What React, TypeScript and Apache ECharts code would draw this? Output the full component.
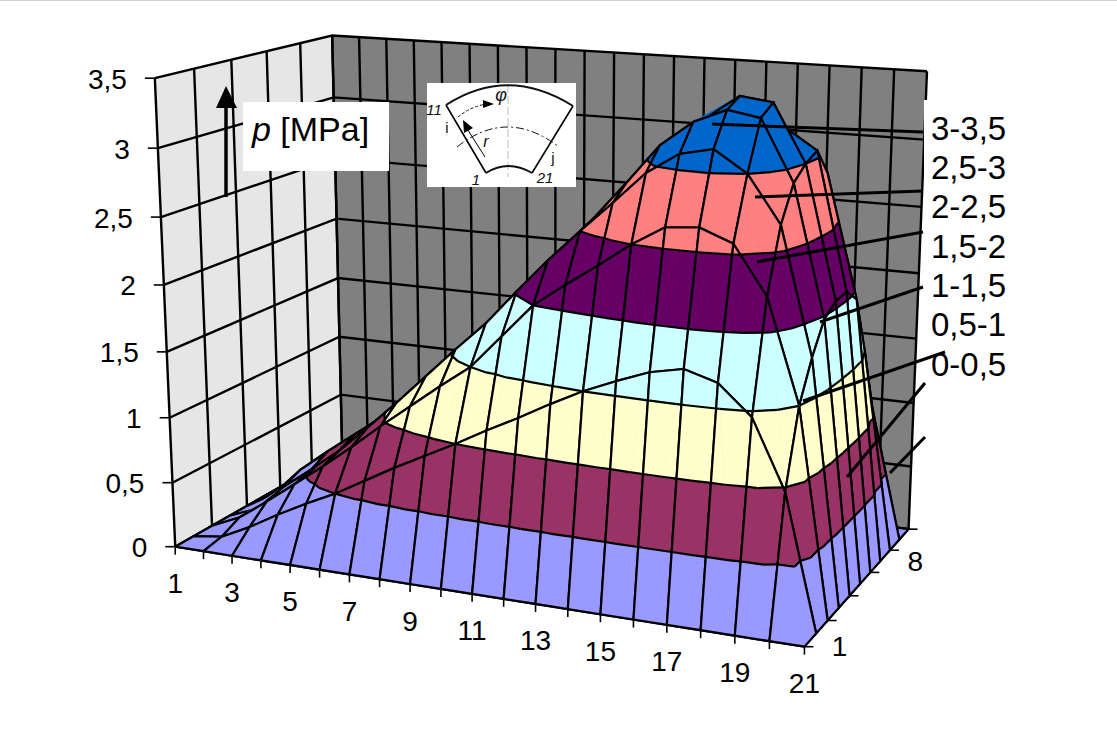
import React, { useEffect, useRef } from "react";
import * as echarts from "echarts";

const W = 1117;
const H = 732;
const FONT = "'Liberation Sans', Arial, sans-serif";

const bandLabels = ["0-0,5", "0,5-1", "1-1,5", "1,5-2", "2-2,5", "2,5-3", "3-3,5"];
const bandColors = ["#9999FF", "#993366", "#FFFFCC", "#CCFFFF", "#660066", "#FF8080", "#0066CC"];
const pTickLabels = ["0", "0,5", "1", "1,5", "2", "2,5", "3", "3,5"];
const pTickValues = [0, 0.5, 1, 1.5, 2, 2.5, 3, 3.5];
const xLabels = ["1", "3", "5", "7", "9", "11", "13", "15", "17", "19", "21"];
const depthLabels = [["1", 1], ["8", 8]] as [string, number][];
const depthGrid = [1, 3, 5, 7, 9, 11];

const row1 = [0,0,0,0,0,0,0,0,0,0,0,0,0,0,0,0,0,0,0,0,0];
const row2 = [0,.03,.14,.27,.39,.5,.63,.76,.88,1,1.13,1.25,1.38,1.5,1.6,1.69,1.74,1.67,1.46,.97,0];
const row3 = [0,.1,.26,.43,.6,.78,.97,1.15,1.33,1.5,1.75,2,2.17,2.33,2.5,2.64,2.66,2.57,2.23,1.5,0];
const row4 = [0,.09,.3,.47,.65,.86,1.08,1.31,1.54,1.76,2.02,2.27,2.5,2.72,2.95,3.1,3.15,3,2.67,1.77,0];
const row5 = [0,.13,.36,.54,.71,.88,1.1,1.34,1.56,1.8,2.04,2.28,2.55,2.82,3.1,3.28,3.38,3.34,2.91,1.98,0];
const row6 = [0,.13,.35,.52,.69,.86,1.07,1.3,1.52,1.76,2,2.24,2.5,2.78,3.05,3.27,3.44,3.41,3,2.05,0];
const row7 = [0,.12,.28,.44,.62,.8,1,1.2,1.4,1.62,1.85,2.07,2.3,2.55,2.82,3.05,3.3,3.2,3.05,2.06,0];
const row8 = [0,.1,.24,.38,.53,.68,.85,1.02,1.2,1.38,1.58,1.78,1.98,2.2,2.45,2.7,2.85,2.9,2.85,1.95,0];
const row9 = [0,.08,.18,.3,.42,.54,.68,.82,.96,1.1,1.25,1.4,1.56,1.75,1.95,2.15,2.3,2.35,2.42,1.5,0];
const row10 = [0,.05,.1,.17,.24,.3,.38,.46,.54,.62,.7,.8,.9,1,1.12,1.25,1.35,1.45,1.7,1,0];
const row11 = [0,0,0,0,0,0,0,0,0,0,0,0,0,0,0,0,0,0,0,0,0];
const pressure = [row1, row2, row3, row4, row5, row6, row7, row8, row9, row10, row11];

// screen anchors of the box: [x index 0..1, depth 0..1, height 0..1, px, py]
const boxAnchors = [
  [0, 0, 0, 176, 546], [0, 0, 1, 155, 78], [1, 0, 0, 803, 648],
  [0, 1, 0, 342, 453], [0, 1, 1, 332, 35], [1, 1, 0, 908, 528],
  [1, 1, 1, 927, 72], [0.5, 0, 0, 471, 594], [1, 0.4, 0, 852, 595],
];

function solve(A: number[][], b: number[]) {
  const n = b.length;
  const M = A.map((r, i) => [...r, b[i]]);
  for (let c = 0; c < n; c++) {
    let p = c;
    for (let r = c + 1; r < n; r++) if (Math.abs(M[r][c]) > Math.abs(M[p][c])) p = r;
    [M[c], M[p]] = [M[p], M[c]];
    for (let r = 0; r < n; r++) {
      if (r === c) continue;
      const f = M[r][c] / M[c][c];
      for (let k = c; k <= n; k++) M[r][k] -= f * M[c][k];
    }
  }
  return M.map((r, i) => r[n] / r[i]);
}

function fitCamera() {
  const rows: number[][] = [];
  const rhs: number[] = [];
  boxAnchors.forEach(([X, Y, Z, u, v]) => {
    rows.push([X, Y, Z, 1, 0, 0, 0, 0, -u * X, -u * Y, -u * Z]);
    rhs.push(u);
    rows.push([0, 0, 0, 0, X, Y, Z, 1, -v * X, -v * Y, -v * Z]);
    rhs.push(v);
  });
  const n = 11;
  const AtA = Array.from({ length: n }, () => new Array(n).fill(0));
  const Atb = new Array(n).fill(0);
  rows.forEach((r, k) => {
    for (let i = 0; i < n; i++) {
      Atb[i] += r[i] * rhs[k];
      for (let j = 0; j < n; j++) AtA[i][j] += r[i] * r[j];
    }
  });
  return solve(AtA, Atb);
}
const cam = fitCamera();

// i: 1..21, d: 1..11, p: 0..3.5 -> picture position (data units of the hidden axes)
function project(i: number, d: number, p: number): [number, number] {
  const X = (i - 1) / 20, Y = (d - 1) / 10, Z = p / 3.5;
  const w = cam[8] * X + cam[9] * Y + cam[10] * Z + 1;
  return [
    (cam[0] * X + cam[1] * Y + cam[2] * Z + cam[3]) / w,
    (cam[4] * X + cam[5] * Y + cam[6] * Z + cam[7]) / w,
  ];
}

type V = [number, number, number];
function clipAbove(poly: V[], level: number, keepAbove: boolean): V[] {
  const out: V[] = [];
  const inside = (v: V) => (keepAbove ? v[2] >= level : v[2] <= level);
  for (let k = 0; k < poly.length; k++) {
    const a = poly[k], b = poly[(k + 1) % poly.length];
    const ia = inside(a), ib = inside(b);
    if (ia) out.push(a);
    if (ia !== ib) {
      const t = (level - a[2]) / (b[2] - a[2]);
      out.push([a[0] + t * (b[0] - a[0]), a[1] + t * (b[1] - a[1]), level]);
    }
  }
  return out;
}

function cellTriangles(i: number, d: number): V[][] {
  const p = (ii: number, dd: number): V => [ii, dd, pressure[dd - 1][ii - 1]];
  const a = p(i, d), b = p(i + 1, d), c = p(i + 1, d + 1), e = p(i, d + 1);
  return i >= 17 ? [[a, b, e], [b, c, e]] : [[a, b, c], [a, c, e]];
}

const cellData: number[][] = [];
for (let d = 10; d >= 1; d--) for (let i = 1; i <= 20; i++) cellData.push([i, d]);

const wallData = [[0, 0]];
const xTickIdx = row1.map((_, k) => k + 1);

export default function App() {
  const ref = useRef<HTMLDivElement>(null);
  useEffect(() => {
    document.body.style.margin = "0";
    document.body.style.background = "#fff";
    const chart = echarts.init(ref.current!, null, { renderer: "svg" });

    const line = (api: any, pts: [number, number][], width = 2, color = "#000") => ({
      type: "polyline",
      shape: { points: pts.map((q) => api.coord(q)) },
      style: { stroke: color, lineWidth: width, fill: null },
      silent: true,
    });

    const renderWalls = (_: any, api: any) => {
      const kids: any[] = [];
      const poly = (pts: [number, number][], fill: string) => ({
        type: "polygon",
        shape: { points: pts.map((q) => api.coord(q)) },
        style: { fill },
      });
      kids.push(poly([project(1, 1, 0), project(1, 1, 3.5), project(1, 11, 3.5), project(1, 11, 0)], "#E6E6E6"));
      kids.push(poly([project(1, 11, 0), project(1, 11, 3.5), project(21, 11, 3.5), project(21, 11, 0)], "#808080"));
      kids.push(poly([project(1, 1, 0), project(21, 1, 0), project(21, 11, 0), project(1, 11, 0)], "#C0C0C0"));
      pTickValues.forEach((p) => {
        kids.push(line(api, [project(1, 1, p), project(1, 11, p), project(21, 11, p)], 2.4));
        const a = project(1, 1, p);
        kids.push(line(api, [a, [a[0] - 10, a[1]]], 1.6));
      });
      depthGrid.forEach((d) => {
        kids.push(line(api, [project(1, d, 0), project(1, d, 3.5)], 2.4));
        kids.push(line(api, [project(1, d, 0), project(21, d, 0)], 2.4));
        const a = project(21, d, 0);
        kids.push(line(api, [a, [a[0] + 9, a[1]]], 1.6));
      });
      xTickIdx.forEach((i) => {
        kids.push(line(api, [project(i, 11, 0), project(i, 11, 3.5)], 2.4));
        kids.push(line(api, [project(i, 1, 0), project(i, 11, 0)], 2));
        const a = project(i, 1, 0);
        kids.push(line(api, [a, [a[0], a[1] + 8]], 1.6));
      });
      return { type: "group", children: kids };
    };

    const renderCell = (_: any, api: any) => {
      const i = api.value(0), d = api.value(1);
      const kids: any[] = [];
      const tris = cellTriangles(i, d);
      tris.forEach((tri) => {
        bandColors.forEach((color, b) => {
          let poly: V[] = clipAbove(tri, b * 0.5, true);
          if (poly.length) poly = clipAbove(poly, (b + 1) * 0.5, false);
          if (poly.length >= 3) {
            kids.push({
              type: "polygon",
              shape: { points: poly.map((v) => api.coord(project(v[0], v[1], v[2]))) },
              style: { fill: color, stroke: color, lineWidth: 0.8 },
            });
          }
        });
      });
      tris.forEach((tri) => {
        for (let l = 0.5; l <= 3; l += 0.5) {
          const cut: [number, number][] = [];
          for (let k = 0; k < 3; k++) {
            const a = tri[k], b = tri[(k + 1) % 3];
            if ((a[2] < l && b[2] >= l) || (a[2] >= l && b[2] < l)) {
              const t = (l - a[2]) / (b[2] - a[2]);
              cut.push(project(a[0] + t * (b[0] - a[0]), a[1] + t * (b[1] - a[1]), l));
            }
          }
          if (cut.length === 2) kids.push(line(api, cut, 2.2));
        }
      });
      const pr = (ii: number, dd: number) => project(ii, dd, pressure[dd - 1][ii - 1]);
      kids.push(line(api, [pr(i, d), pr(i + 1, d), pr(i + 1, d + 1), pr(i, d + 1), pr(i, d)], 2.2));
      return { type: "group", children: kids };
    };

    const text = (x: number, y: number, s: string, size: number, align = "center", italic = false, color = "#000") => ({
      type: "text",
      x,
      y,
      z: 100,
      style: {
        text: s,
        fill: color,
        fontFamily: FONT,
        fontSize: size,
        fontStyle: italic ? "italic" : "normal",
        align,
        verticalAlign: "middle",
      },
    });

    const renderLabels = (_: any, api: any) => {
      const kids: any[] = [];
      const at = (q: [number, number]) => api.coord(q);
      pTickLabels.forEach((s, k) => {
        const c = at(project(1, 1, pTickValues[k]));
        kids.push(text(c[0] - 28, c[1] + 1, s, 28, "right"));
      });
      xLabels.forEach((s) => {
        const c = at(project(Number(s), 1, 0));
        kids.push(text(c[0], c[1] + 37, s, 28));
      });
      depthLabels.forEach(([s, d]) => {
        const c = at(project(21, d, 0));
        kids.push(text(c[0] + 35, c[1], s, 28));
      });
      return { type: "group", children: kids };
    };

    const legendRows = bandLabels.map((s, k) => ({ s, y: 364 - k * 39.3 }));
    const leaders = [
      [[890, 473], [925, 437]],
      [[847, 477], [925, 383]],
      [[803, 401], [945, 352]],
      [[820, 322], [923, 287]],
      [[757, 262], [923, 232]],
      [[755, 197], [923, 191]],
      [[712, 124], [923, 132]],
    ];
    const gl = (pts: number[][], width: number, extra: any = {}, color = "#000") => ({
      type: "polyline",
      z: 100,
      shape: { points: pts },
      style: { stroke: color, lineWidth: width, fill: null, ...extra },
    });
    const curve = (x1: number, y1: number, cx: number, cy: number, x2: number, y2: number, width: number, extra: any = {}) => ({
      type: "bezierCurve",
      z: 102,
      shape: { x1, y1, x2, y2, cpx1: cx, cpy1: cy },
      style: { stroke: "#111", lineWidth: width, fill: null, ...extra },
    });

    chart.setOption({
      animation: false,
      backgroundColor: "#fff",
      grid: { left: 0, right: 0, top: 0, bottom: 0 },
      xAxis: { type: "value", min: 0, max: W, show: false },
      yAxis: { type: "value", min: 0, max: H, inverse: true, show: false },
      series: [
        { type: "custom", coordinateSystem: "cartesian2d", clip: false, z: 1, renderItem: renderWalls, data: wallData, silent: true },
        { type: "custom", coordinateSystem: "cartesian2d", clip: false, z: 2, renderItem: renderCell, data: cellData, silent: true },
        { type: "custom", coordinateSystem: "cartesian2d", clip: false, z: 3, renderItem: renderLabels, data: wallData, silent: true },
      ],
      graphic: [
        { type: "rect", z: 90, shape: { x: 0, y: 0, width: W, height: 1 }, style: { fill: "#D4D4D4" } },
        { type: "rect", z: 90, shape: { x: 924, y: 100, width: 193, height: 400 }, style: { fill: "#fff" } },
        { type: "rect", z: 90, shape: { x: 243, y: 102, width: 146, height: 69 }, style: { fill: "#fff" } },
        { type: "rect", z: 90, shape: { x: 427, y: 83, width: 149, height: 104 }, style: { fill: "#fff" } },
        ...leaders.map((l) => gl(l, 3)),
        ...legendRows.map((r) => text(931, r.y, r.s, 33, "left")),
        {
          type: "text", z: 100, x: 252, y: 129,
          style: {
            text: "{i|p} [MPa]", fill: "#000", fontFamily: FONT, fontSize: 34, verticalAlign: "middle",
            rich: { i: { fontStyle: "italic", fontFamily: FONT, fontSize: 34, fill: "#000" } },
          },
        },
        gl([[226, 197], [226, 105]], 3.5),
        { type: "polygon", z: 100, shape: { points: [[216, 108], [237, 108], [226, 86]] }, style: { fill: "#000" } },
        // inset sketch
        curve(446, 105, 508, 65, 573, 106, 2),
        curve(486, 173, 508, 159, 532, 173, 2),
        gl([[446, 105], [486, 173]], 1.6),
        gl([[532, 173], [573, 106]], 1.6),
        gl([[508, 85], [508, 177]], 1, { lineDash: [8, 3] }, "#bbb"),
        curve(457, 147, 507, 107, 559, 147, 1, { lineDash: [8, 3, 2, 3] }),
        curve(458, 117, 470, 107, 486, 104, 1, { lineDash: [3, 2] }),
        { type: "polygon", z: 102, shape: { points: [[494, 104], [483, 100], [483, 108]] }, style: { fill: "#000" } },
        gl([[485, 157], [466, 127]], 1),
        { type: "polygon", z: 102, shape: { points: [[463, 120], [464, 133], [473, 128]] }, style: { fill: "#000" } },
        text(434, 109, "11", 15, "center", true, "#111"),
        text(447, 127, "i", 15, "center", false, "#111"),
        text(501, 95, "φ", 18, "center", true, "#111"),
        text(486, 141, "r", 16, "center", true, "#111"),
        text(476, 179, "1", 15, "center", true, "#111"),
        text(545, 177, "21", 15, "center", true, "#111"),
        text(553, 157, "j", 15, "center", false, "#111"),
      ],
    });
    return () => chart.dispose();
  }, []);
  return <div ref={ref} style={{ width: W, height: H, overflow: "hidden" }} />;
}
